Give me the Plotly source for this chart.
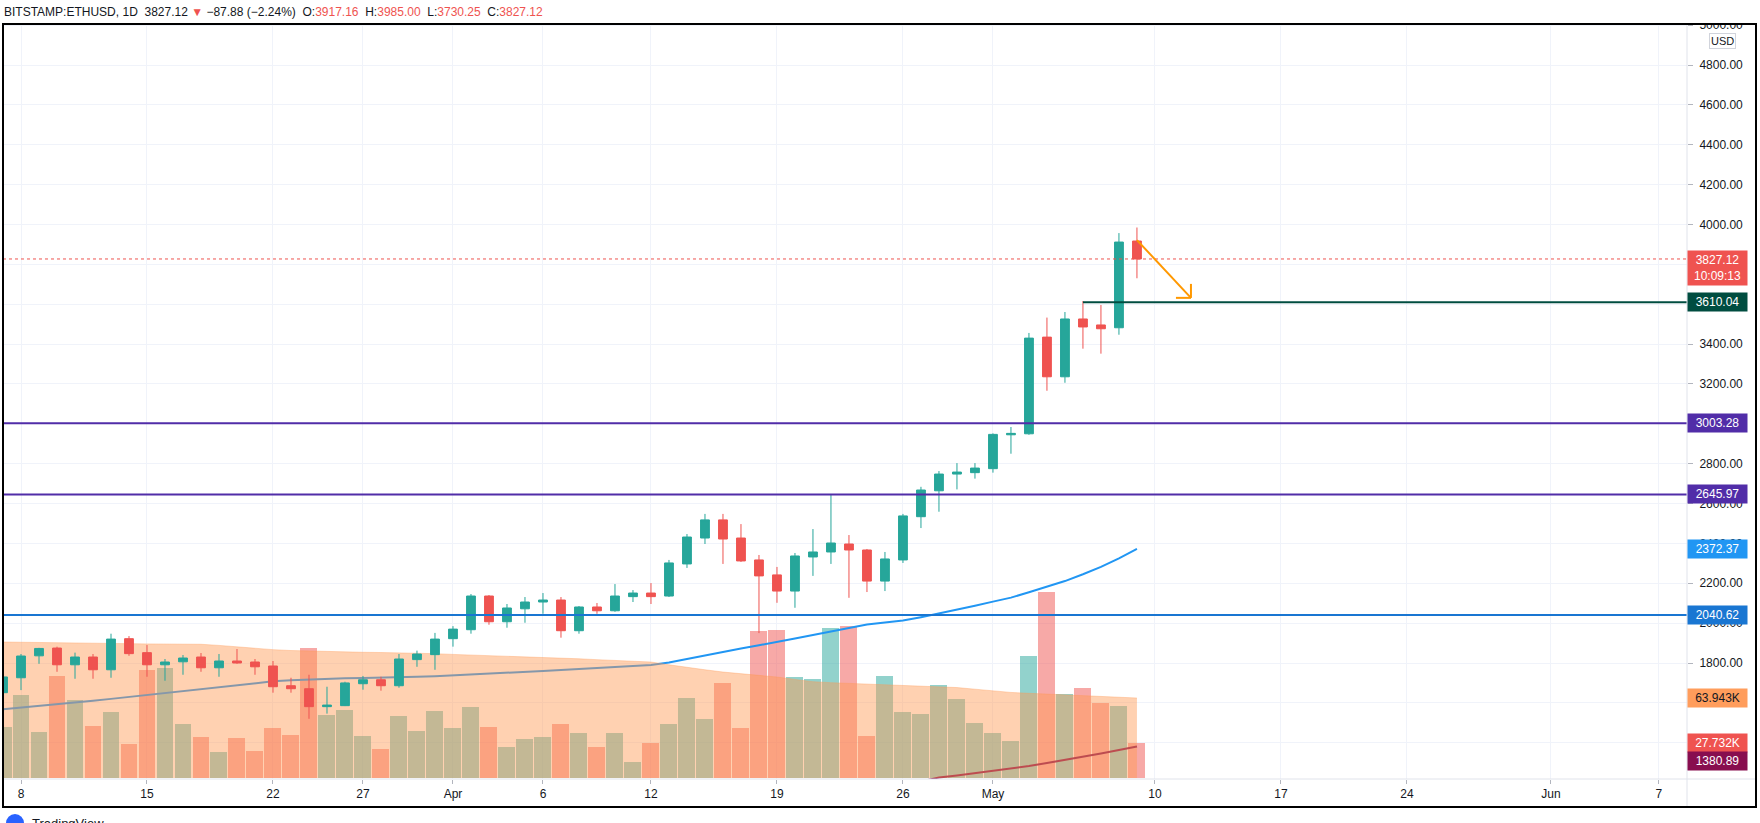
import pandas as pd
import plotly.graph_objects as go

# ---------------- data ----------------
dates = pd.date_range("2021-03-07", "2021-05-09", freq="D")

opens = [1651, 1726, 1836, 1875, 1791, 1830, 1766, 1922, 1852, 1791, 1806, 1830, 1776, 1810, 1805, 1785,
         1686, 1671, 1581, 1586, 1696, 1716, 1686, 1817, 1842, 1922, 1967, 2136, 2007, 2072, 2106, 2116,
         1962, 2081, 2062, 2133, 2151, 2136, 2297, 2427, 2518, 2427, 2317, 2242, 2161, 2332, 2357, 2397,
         2367, 2211, 2317, 2534, 2664, 2748, 2755, 2775, 2945, 2950, 3435, 3236, 3526, 3496, 3482, 3917.16]
highs = [1735, 1845, 1876, 1882, 1852, 1845, 1947, 1935, 1890, 1820, 1840, 1850, 1845, 1870, 1820, 1810,
         1726, 1741, 1681, 1706, 1735, 1731, 1845, 1862, 1951, 1985, 2146, 2141, 2096, 2131, 2151, 2131,
         2086, 2101, 2196, 2166, 2201, 2317, 2447, 2548, 2548, 2497, 2342, 2282, 2352, 2472, 2648, 2442,
         2372, 2357, 2548, 2684, 2763, 2803, 2803, 2952, 2984, 3456, 3533, 3561, 3616, 3596, 3957, 3985.00]
lows = [1645, 1664, 1796, 1756, 1721, 1721, 1726, 1836, 1731, 1711, 1741, 1756, 1731, 1796, 1741, 1651,
        1651, 1520, 1546, 1584, 1666, 1661, 1676, 1781, 1766, 1882, 1947, 1992, 1977, 2002, 2047, 1927,
        1947, 2047, 2057, 2106, 2096, 2131, 2277, 2397, 2297, 2307, 1950, 2102, 2077, 2237, 2297, 2127,
        2156, 2161, 2302, 2477, 2559, 2671, 2725, 2755, 2850, 2945, 3166, 3206, 3377, 3352, 3447, 3730.25]
closes = [1730, 1835, 1873, 1791, 1830, 1766, 1920, 1847, 1791, 1805, 1825, 1776, 1810, 1800, 1781, 1681,
          1671, 1581, 1589, 1700, 1716, 1686, 1820, 1845, 1920, 1970, 2136, 2007, 2076, 2106, 2116, 1962,
          2081, 2062, 2136, 2151, 2133, 2302, 2432, 2518, 2422, 2312, 2237, 2161, 2337, 2357, 2402, 2367,
          2211, 2322, 2538, 2668, 2748, 2758, 2778, 2947, 2952, 3430, 3236, 3526, 3486, 3477, 3912, 3827.12]

# volume in thousands
volumes = [40.8, 66.1, 36.6, 81.2, 62.1, 41.4, 52.5, 27.1, 86.0, 87.6, 43.0, 32.6, 20.7, 31.8, 21.5, 39.8,
           34.2, 104.3, 50.1, 54.1, 33.4, 23.1, 49.4, 37.4, 53.3, 39.8, 56.5, 40.6, 24.7, 31.0, 32.6, 43.0,
           35.8, 24.7, 35.8, 12.7, 27.9, 43.0, 63.7, 47.0, 75.6, 39.8, 117.8, 118.6, 80.4, 78.8, 120.2, 121.8,
           33.4, 81.2, 52.5, 50.9, 74.0, 62.9, 43.8, 35.8, 29.5, 97.9, 148.9, 66.9, 71.6, 59.7, 57.3, 27.732]

# volume moving average (thousands)
vol_ma = [108.7, 108.6, 108.4, 108.2, 108.0, 107.8, 107.6, 107.4, 107.2, 107.1, 107.0, 106.9, 106.0, 104.8,
          103.6, 102.6, 101.9, 101.4, 101.0, 100.7, 100.5, 100.3, 100.1, 99.9, 99.4, 98.8, 98.3, 97.9, 97.5,
          97.2, 96.7, 96.0, 95.3, 94.6, 93.9, 93.2, 92.7, 90.5, 88.3, 86.5, 84.7, 83.3, 82.2, 80.7, 78.8, 77.0,
          76.2, 75.6, 75.1, 74.6, 74.1, 73.6, 73.2, 72.3, 71.0, 69.6, 68.4, 67.7, 67.1, 66.7, 66.3, 65.6, 64.8,
          63.943]

# price moving average (blue)
ma_fast = [1568, 1576, 1584, 1591, 1600, 1610, 1620, 1630, 1640, 1649, 1659, 1668, 1678, 1688, 1698, 1708,
           1714, 1718, 1721, 1723, 1725, 1726, 1728, 1731, 1734, 1738, 1742, 1745, 1750, 1755, 1760, 1765,
           1770, 1775, 1780, 1785, 1790, 1802, 1820, 1839, 1857, 1873, 1889, 1905, 1923, 1941, 1958, 1978,
           1993, 2003, 2013, 2030, 2048, 2068, 2087, 2108, 2128, 2155, 2182, 2211, 2245, 2282, 2325, 2372.37]

# long moving average (maroon), visible part only
ma_slow_dates = pd.date_range("2021-04-27", "2021-05-09", freq="D")
ma_slow = [1205, 1226, 1236, 1248, 1258, 1271, 1283, 1298, 1313, 1328, 1346, 1363, 1380.89]

# horizontal levels
level_res_1 = 3003.28
level_res_2 = 2645.97
level_sup = 2040.62
level_ray = 3610.04
level_ray_start = "2021-05-06"
last_price = 3827.12

# projected move arrow (start / end in data units)
arrow_start = ("2021-05-09 00:00", 3922)
arrow_end = ("2021-05-12 00:00", 3632)

x_tick_vals = ["2021-03-08", "2021-03-15", "2021-03-22", "2021-03-27", "2021-04-01", "2021-04-06",
               "2021-04-12", "2021-04-19", "2021-04-26", "2021-05-01", "2021-05-10", "2021-05-17",
               "2021-05-24", "2021-06-01", "2021-06-07"]
x_tick_text = ["8", "15", "22", "27", "Apr", "6", "12", "19", "26", "May", "10", "17", "24", "Jun", "7"]
price_ticks = [1400, 1600, 1800, 2000, 2200, 2400, 2600, 2800, 3000, 3200, 3400, 3600, 3800, 4000,
               4200, 4400, 4600, 4800, 5000]

# ---------------- layout geometry ----------------
W, H = 1760, 823
L, R, T, B = 3, 1687, 24, 779
x_range = ["2021-03-07 00:00", "2021-06-08 13:26"]
price_range = [1218, 5006]
vol_range = [-0.8, 602.7]

def px_x(p):
    return (p - L) / (R - L)

def px_y(p):
    return (B - p) / (B - T)

UP, DOWN = "#26A69A", "#EF5350"
FONT = "Liberation Sans, Arial, sans-serif"
TXT = "#131722"

fig = go.Figure()

vol_colors = ["rgba(38,166,154,0.5)" if c >= o else "rgba(239,83,80,0.5)" for o, c in zip(opens, closes)]
fig.add_trace(go.Bar(x=dates, y=volumes, marker=dict(color=vol_colors, line=dict(width=0)),
                     width=0.944 * 86400000, yaxis="y", hoverinfo="skip", showlegend=False))
fig.add_trace(go.Scatter(x=dates, y=ma_fast, mode="lines", line=dict(color="#2196F3", width=2),
                         yaxis="y2", hoverinfo="skip", showlegend=False))
fig.add_trace(go.Scatter(x=ma_slow_dates, y=ma_slow, mode="lines", line=dict(color="#880E4F", width=2),
                         yaxis="y2", hoverinfo="skip", showlegend=False))
fig.add_trace(go.Scatter(x=dates, y=vol_ma, mode="lines", fill="tozeroy",
                         fillcolor="rgba(255,152,82,0.45)",
                         line=dict(color="rgba(255,152,82,0.35)", width=1),
                         yaxis="y3", hoverinfo="skip", showlegend=False))
fig.add_trace(go.Candlestick(x=dates, open=opens, high=highs, low=lows, close=closes,
                             increasing=dict(line=dict(color=UP, width=1), fillcolor=UP),
                             decreasing=dict(line=dict(color=DOWN, width=1), fillcolor=DOWN),
                             yaxis="y4", hoverinfo="skip", showlegend=False))

shapes = []
# levels
for lvl, col in [(level_res_1, "#512DA8"), (level_res_2, "#512DA8"), (level_sup, "#1976D2")]:
    shapes.append(dict(type="line", xref="x", yref="y4", x0=x_range[0], x1=x_range[1], y0=lvl, y1=lvl,
                       line=dict(color=col, width=2), layer="above"))
shapes.append(dict(type="line", xref="x", yref="y4", x0=level_ray_start, x1=x_range[1], y0=level_ray,
                   y1=level_ray, line=dict(color="#004D40", width=2), layer="above"))
shapes.append(dict(type="line", xref="x", yref="y4", x0=x_range[0], x1=x_range[1], y0=last_price,
                   y1=last_price, line=dict(color=DOWN, width=1, dash="dot"), layer="above"))
# arrow
shapes.append(dict(type="line", xref="x", yref="y4", x0=arrow_start[0], y0=arrow_start[1],
                   x1=arrow_end[0], y1=arrow_end[1], line=dict(color="#FF9800", width=2), layer="above"))
shapes.append(dict(type="line", xref="x", yref="y4", x0="2021-05-11 04:00", y0=arrow_end[1],
                   x1=arrow_end[0], y1=arrow_end[1], line=dict(color="#FF9800", width=2), layer="above"))
shapes.append(dict(type="line", xref="x", yref="y4", x0=arrow_end[0], y0=arrow_end[1] + 70,
                   x1=arrow_end[0], y1=arrow_end[1], line=dict(color="#FF9800", width=2), layer="above"))
# clip the top price label
shapes.append(dict(type="rect", xref="paper", yref="paper", x0=1.0, x1=px_x(1760), y0=1.0, y1=px_y(0),
                   fillcolor="white", line=dict(width=0), layer="above"))
# separators
shapes.append(dict(type="line", xref="paper", yref="paper", x0=1.0, x1=1.0, y0=px_y(807), y1=1.0,
                   line=dict(color="#E0E3EB", width=1), layer="above"))
shapes.append(dict(type="line", xref="paper", yref="paper", x0=0, x1=px_x(1756), y0=0, y1=0,
                   line=dict(color="#E0E3EB", width=1), layer="above"))
# frame
shapes.append(dict(type="rect", xref="paper", yref="paper", x0=px_x(3), x1=px_x(1756), y0=px_y(807),
                   y1=px_y(24), line=dict(color="#000000", width=2), layer="above"))
# logo dot
shapes.append(dict(type="circle", xref="paper", yref="paper", x0=px_x(6), x1=px_x(24), y0=px_y(832),
                   y1=px_y(814), fillcolor="#2962FF", line=dict(width=0), layer="above"))

annotations = []
header = (f"BITSTAMP:ETHUSD, 1D&nbsp; 3827.12 <span style='color:{DOWN}'>▼</span> −87.88 (−2.24%)&nbsp; "
          f"O:<span style='color:{DOWN}'>3917.16</span>&nbsp; H:<span style='color:{DOWN}'>3985.00</span>&nbsp; "
          f"L:<span style='color:{DOWN}'>3730.25</span>&nbsp; C:<span style='color:{DOWN}'>3827.12</span>")
annotations.append(dict(xref="paper", yref="paper", x=px_x(2), y=px_y(12), xanchor="left", yanchor="middle",
                        text=header, showarrow=False, font=dict(family=FONT, size=12, color=TXT)))
annotations.append(dict(xref="paper", yref="paper", x=px_x(1722), y=px_y(41), xanchor="center",
                        yanchor="middle", text="USD", showarrow=False, bgcolor="white",
                        bordercolor="#D1D4DC", borderwidth=1, borderpad=1,
                        font=dict(family=FONT, size=11, color=TXT)))
annotations.append(dict(xref="paper", yref="paper", x=px_x(30), y=px_y(823), xanchor="left",
                        yanchor="middle", text="TradingView", showarrow=False,
                        font=dict(family=FONT, size=13, color=TXT)))

def axis_label(val, text, bg, yref="y4", fc="white", yshift=0, yanchor="middle"):
    annotations.append(dict(xref="paper", yref=yref, x=1.0, y=val, xanchor="left", yanchor=yanchor,
                            text=text, showarrow=False, bgcolor=bg, borderpad=2, width=55,
                            yshift=yshift, font=dict(family=FONT, size=12, color=fc)))

axis_label(last_price, "3827.12<br>10:09:13", DOWN, yanchor="top", yshift=9)
axis_label(level_ray, "3610.04", "#004D40")
axis_label(level_res_1, "3003.28", "#512DA8")
axis_label(level_res_2, "2645.97", "#512DA8")
axis_label(ma_fast[-1], "2372.37", "#2196F3")
axis_label(level_sup, "2040.62", "#1976D2")
axis_label(vol_ma[-1], "63.943K", "#FF9D5C", yref="y3", fc=TXT)
axis_label(volumes[-1], "27.732K", DOWN, yref="y3")
axis_label(ma_slow[-1], "1380.89", "#880E4F", yshift=-14)

fig.update_layout(
    width=W, height=H, autosize=False,
    margin=dict(l=L, r=W - R, t=T, b=H - B, pad=0),
    paper_bgcolor="white", plot_bgcolor="white",
    showlegend=False, hovermode=False, bargap=0,
    font=dict(family=FONT, size=12, color=TXT),
    xaxis=dict(type="date", range=x_range, tickvals=x_tick_vals, ticktext=x_tick_text,
               showgrid=True, gridcolor="#F0F3FA", gridwidth=1, ticks="outside", ticklen=4,
               tickcolor="#B2B5BE", tickfont=dict(family=FONT, size=12, color=TXT),
               showline=False, zeroline=False, rangeslider=dict(visible=False), fixedrange=True),
    yaxis=dict(range=vol_range, visible=False, showgrid=False, zeroline=False, fixedrange=True),
    yaxis2=dict(range=price_range, overlaying="y", side="right", tickvals=price_ticks,
                tickformat=".2f", showgrid=True, gridcolor="#F0F3FA", gridwidth=1, ticks="outside",
                ticklen=5, tickcolor="#B2B5BE", ticklabelstandoff=4,
                tickfont=dict(family=FONT, size=12, color=TXT), zeroline=False, showline=False,
                fixedrange=True),
    yaxis3=dict(range=vol_range, overlaying="y", visible=False, showgrid=False, zeroline=False,
                fixedrange=True),
    yaxis4=dict(range=price_range, overlaying="y", visible=False, showgrid=False, zeroline=False,
                fixedrange=True),
    shapes=shapes, annotations=annotations,
)

fig.write_html("out.html", config={"displayModeBar": False},
               post_script="document.body.style.margin='0';document.body.style.overflow='hidden';")
